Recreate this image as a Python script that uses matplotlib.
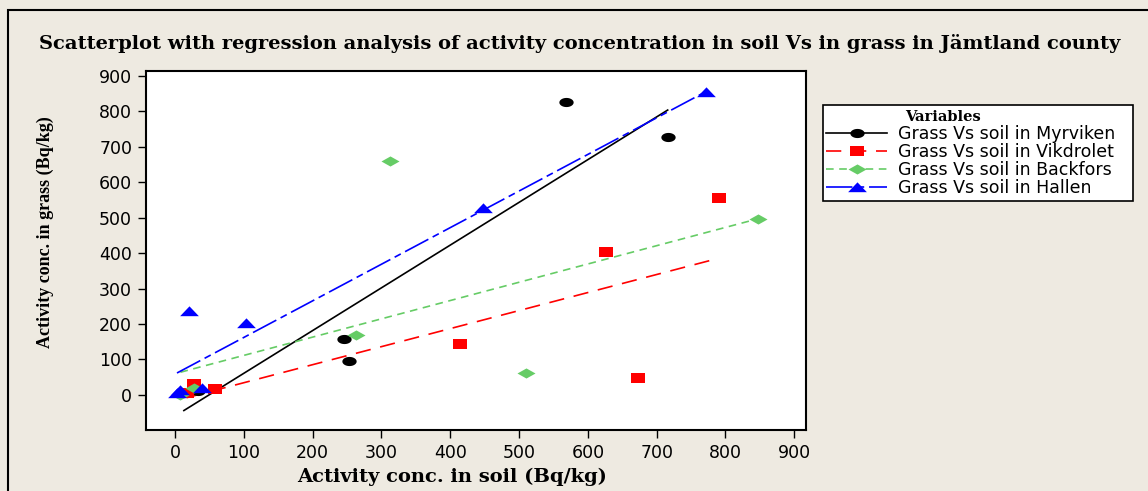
"""
Scatterplot with regression lines, soil vs grass activity (Jämtland county)
"""

import matplotlib
matplotlib.use('Agg')
import matplotlib.pyplot as plt
from matplotlib.path import Path
from matplotlib.patches import Rectangle
import numpy as np

plt.rcParams['lines.scale_dashes'] = False

# ---- data ----
myr_soil = [13, 33, 245, 253, 568, 716]
myr_grass = [5, 10, 157, 96, 827, 727]
vik_soil = [17, 28, 58, 414, 627, 673, 790]
vik_grass = [5, 30, 16, 144, 402, 47, 557]
back_soil = [8, 27, 263, 312, 510, 847]
back_grass = [0, 20, 169, 661, 62, 497]
hal_soil = [3, 8, 40, 21, 103, 448, 772]
hal_grass = [5, 14, 20, 238, 202, 527, 856]

# regression fits (slope, intercept) as shown on the chart
myr_fit = (1.206, -59.7)
vik_fit = (0.509, -16.5)
back_fit = (0.516, 59.9)
hal_fit = (1.033, 58.8)

labels = ['Grass Vs soil in Myrviken', 'Grass Vs soil in Vikdrolet',
          'Grass Vs soil in Backfors', 'Grass Vs soil in Hallen']
xticks = np.arange(0, 1000, 100)
yticks = np.arange(0, 1000, 100)

# ---- squashed markers (the original image is stretched sideways) ----
t = np.linspace(0, 2 * np.pi, 41)
m_circle = Path(np.c_[np.cos(t), 0.64 * np.sin(t)], closed=True)
m_square = Path([(-1, -0.65), (1, -0.65), (1, 0.65), (-1, 0.65), (-1, -0.65)], closed=True)
m_diamond = Path([(-1, 0), (0, 0.56), (1, 0), (0, -0.56), (-1, 0)], closed=True)
m_tri = Path([(-1, -0.5), (1, -0.5), (0, 0.55), (-1, -0.5)], closed=True)

bg = '#EEEAE1'
fig = plt.figure(figsize=(11.48, 4.91), dpi=100, facecolor=bg)
ax = fig.add_axes([0.1272, 0.1242, 0.5749, 0.7312])
ax.set_facecolor('white')

series = [
    (myr_soil, myr_grass, myr_fit, 'black', m_circle, 10.3, (None, None)),
    (vik_soil, vik_grass, vik_fit, '#FF0000', m_square, 10, (0, (11, 7))),
    (back_soil, back_grass, back_fit, '#66CC66', m_diamond, 13, (0, (5.5, 4))),
    (hal_soil, hal_grass, hal_fit, '#0000FF', m_tri, 13.5, (0, (19, 3.5, 5, 3.5))),
]

handles = []
for (sx, sy, fit, col, mk, ms, dash), lab in zip(series, labels):
    xs = np.array([min(sx), max(sx)])
    ls = '-' if dash[0] is None else dash
    ax.plot(xs, fit[0] * xs + fit[1], color=col, lw=1.2, linestyle=ls, zorder=2)
    ax.plot(sx, sy, linestyle='none', marker=mk, markersize=ms,
            color=col, markeredgewidth=0, zorder=3)
    h, = ax.plot([], [], color=col, lw=1.2, linestyle=ls, marker=mk,
                 markersize=ms, markeredgewidth=0, label=lab)
    handles.append(h)

ax.set_xlim(-42, 917)
ax.set_ylim(-99, 914)
ax.set_xticks(xticks)
ax.set_yticks(yticks)
ax.tick_params(direction='out', length=6, width=1, labelsize=12.5, pad=4)
for sp in ax.spines.values():
    sp.set_linewidth(1.5)

fig.text(0.505, 0.912,
         'Scatterplot with regression analysis of activity concentration in soil Vs in grass in Jämtland county',
         ha='center', va='center', fontsize=14, fontweight='bold',
         family='DejaVu Serif')
fig.text(452 / 1148, 1 - 477 / 491, 'Activity conc. in soil (Bq/kg)',
         ha='center', va='center', fontsize=14, fontweight='bold',
         family='DejaVu Serif')
fig.text(45 / 1148, 1 - 232 / 491, 'Activity conc. in grass (Bq/kg)',
         ha='center', va='center', rotation=90, fontsize=13,
         fontweight='bold', family='Liberation Serif')

leg = fig.legend(handles=handles, loc='upper left',
                 bbox_to_anchor=(823 / 1148, 1 - 200 / 491, 310 / 1148, 95 / 491),
                 mode='expand',
                 title=' ', fontsize=12.5, frameon=True, fancybox=False,
                 edgecolor='black', framealpha=1, borderaxespad=0,
                 handlelength=3.5, handletextpad=0.6, labelspacing=0.0,
                 borderpad=0.2,
                 title_fontproperties={'family': 'Liberation Serif',
                                       'weight': 'bold', 'size': 13})
leg.get_frame().set_linewidth(1.2)
fig.text(905 / 1148, 1 - 117 / 491, 'Variables', ha='left', va='center',
         fontsize=10.5, fontweight='bold', family='DejaVu Serif', zorder=10)

# outer border around the figure, running off the right and bottom edges
fig.patches.append(Rectangle((8 / 1148, -0.1), 1.2, 1.1 - 10 / 491,
                             transform=fig.transFigure, fill=False,
                             edgecolor='black', linewidth=1.5))

fig.savefig('out.png', dpi=100, facecolor=bg)
